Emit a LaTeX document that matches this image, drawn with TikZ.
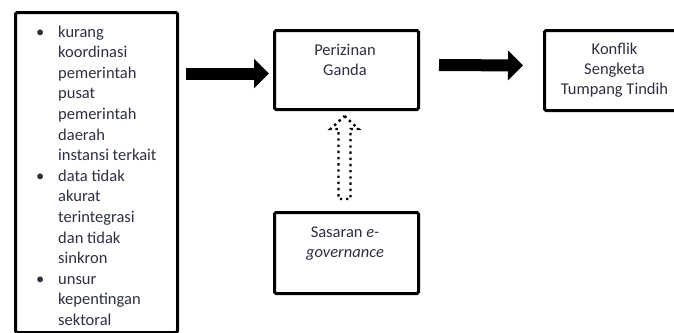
\documentclass[tikz,border=0pt]{standalone}
\usepackage{fontspec}
\setmainfont{Carlito}
\usetikzlibrary{arrows.meta,calc}
\definecolor{txtc}{RGB}{45,48,62}
\begin{document}
\begin{tikzpicture}[x=1pt,y=-1pt,
  box/.style={draw=black,line width=3pt,rounded corners=1.5pt,inner sep=0pt},
  txt/.style={text=txtc,font=\fontsize{16.5}{20}\selectfont,inner sep=0pt,align=center},
  bigarrow/.style={line width=12pt,-{Triangle[length=15pt 0,width=29pt 0]}},
  hollow/.style={draw=black,line width=2.4pt,dash pattern=on 2.4pt off 3.8pt,line join=miter}]
\useasboundingbox (0,0) rectangle (674,332);
% boxes
\node[box,minimum width=162pt,minimum height=320pt,anchor=north west] (left) at (14,11) {};
\node[box,minimum width=144pt,minimum height=79pt,anchor=north west] (perz) at (273,29) {};
\node[box,minimum width=144pt,minimum height=80pt,anchor=north west] (konf) at (543,29) {};
\node[box,minimum width=144pt,minimum height=81pt,anchor=north west] (sasr) at (273,211) {};
% texts (base anchor = baseline of last line)
\node[txt,anchor=base] (perzt) at (345,75) {Perizinan\\Ganda};
\node[txt,anchor=base] (konft) at (614.5,94.5) {Konflik\\Sengketa\\Tumpang Tindih};
\node[txt,anchor=base] (sasrt) at (345,257) {Sasaran \textit{e-}\\\textit{governance}};
\node[txt,anchor=base west,align=left,font=\fontsize{16.5}{20.6}\selectfont] (leftt) at (36,325.4)
 {\makebox[22pt][l]{\textbullet}kurang\\
  \hspace*{22pt}koordinasi\\
  \hspace*{22pt}pemerintah\\
  \hspace*{22pt}pusat\\
  \hspace*{22pt}pemerintah\\
  \hspace*{22pt}daerah\\
  \hspace*{22pt}instansi terkait\\
  \makebox[22pt][l]{\textbullet}data tidak\\
  \hspace*{22pt}akurat\\
  \hspace*{22pt}terintegrasi\\
  \hspace*{22pt}dan tidak\\
  \hspace*{22pt}sinkron\\
  \makebox[22pt][l]{\textbullet}unsur\\
  \hspace*{22pt}kepentingan\\
  \hspace*{22pt}sektoral};
% arrows
\draw[bigarrow,shorten <=7pt,shorten >=4pt]
  ([yshift=-3.5pt]perz.west -| left.east) -- ([yshift=-3.5pt]perz.west);
\draw[bigarrow,shorten <=19pt,shorten >=20pt]
  ([yshift=5pt]perz.east) -- ([yshift=5pt]konf.west);
% dotted hollow arrow from sasaran to perizinan
\coordinate (tip) at ($(perz.south)+(-2,5)$);
\coordinate (base) at ($(sasr.north)+(-2,-12)$);
\draw[hollow] (tip) -- ++(14,13) -- ++(-8,0) -- (base -| {$(tip)+(6,0)$}) -- (base -| {$(tip)+(-6,0)$}) -- ($(tip)+(-6,13)$) -- ++(-8,0) -- cycle;
\end{tikzpicture}
\end{document}
